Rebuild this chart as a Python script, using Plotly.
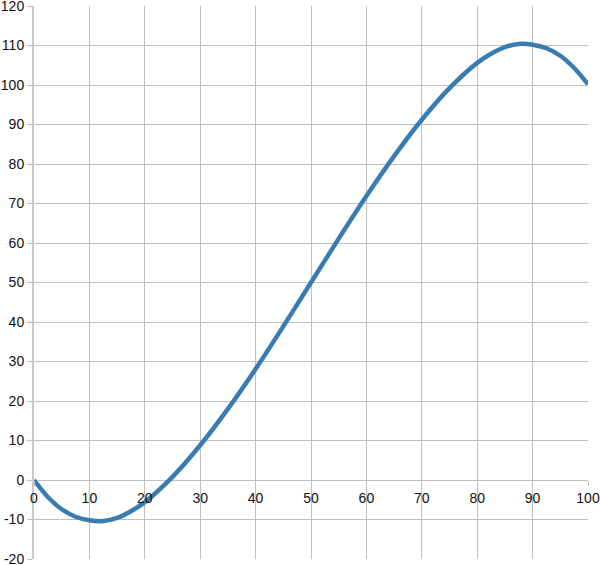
import plotly.graph_objects as go

x_vals = [0, 2.5, 5, 7.5, 10, 12.5, 15, 17.5, 20, 25, 30, 35, 40, 45, 50, 55, 60, 65, 70, 75,
          80, 82.5, 85, 87.5, 90, 92.5, 95, 97.5, 100]
y_vals = [0, -4.3, -7.4, -9.3, -10.2, -10.4, -9.6, -7.9, -5.6, 0.8, 8.8, 18.0, 28.1, 38.9, 50, 61.1, 71.9, 82.0, 91.2, 99.2,
          105.6, 107.9, 109.6, 110.4, 110.2, 109.3, 107.4, 104.3, 100.2]

x_ticks = [0, 10, 20, 30, 40, 50, 60, 70, 80, 90, 100]
y_ticks = [-20, -10, 0, 10, 20, 30, 40, 50, 60, 70, 80, 90, 100, 110, 120]

fig = go.Figure()
fig.add_trace(go.Scatter(
    x=x_vals, y=y_vals, mode="lines",
    line=dict(color="#3a7cb1", width=4.5, shape="spline", smoothing=0.8),
    showlegend=False, hoverinfo="skip",
))

font = dict(family="Liberation Sans, Arial, sans-serif", size=14, color="#111111")
fig.update_layout(
    width=600, height=565,
    margin=dict(l=34, r=12, t=6, b=6, autoexpand=False),
    paper_bgcolor="white", plot_bgcolor="white",
    font=font,
    xaxis=dict(
        range=[0, 100], tickvals=x_ticks, ticktext=[str(v) for v in x_ticks],
        showgrid=True, gridcolor="#c0c0c0", gridwidth=1,
        zeroline=False, showline=False,
        anchor="free", position=20 / 140,
        ticks="outside", ticklen=5, tickcolor="#c0c0c0",
        tickfont=font, fixedrange=True, automargin=False,
        ticklabeloverflow="allow",
    ),
    yaxis=dict(
        range=[-20, 120], tickvals=y_ticks, ticktext=[str(v) for v in y_ticks],
        showgrid=True, gridcolor="#c0c0c0", gridwidth=1,
        zeroline=False, showline=True, linecolor="#c8c8c8", linewidth=2,
        ticks="outside", ticklen=5, tickcolor="#c0c0c0",
        tickfont=font, fixedrange=True, automargin=False,
        ticklabeloverflow="allow",
    ),
)
fig.write_html(
    "out.html",
    config={"displayModeBar": False},
    post_script="document.body.style.margin='0';document.body.style.overflow='hidden';",
)
